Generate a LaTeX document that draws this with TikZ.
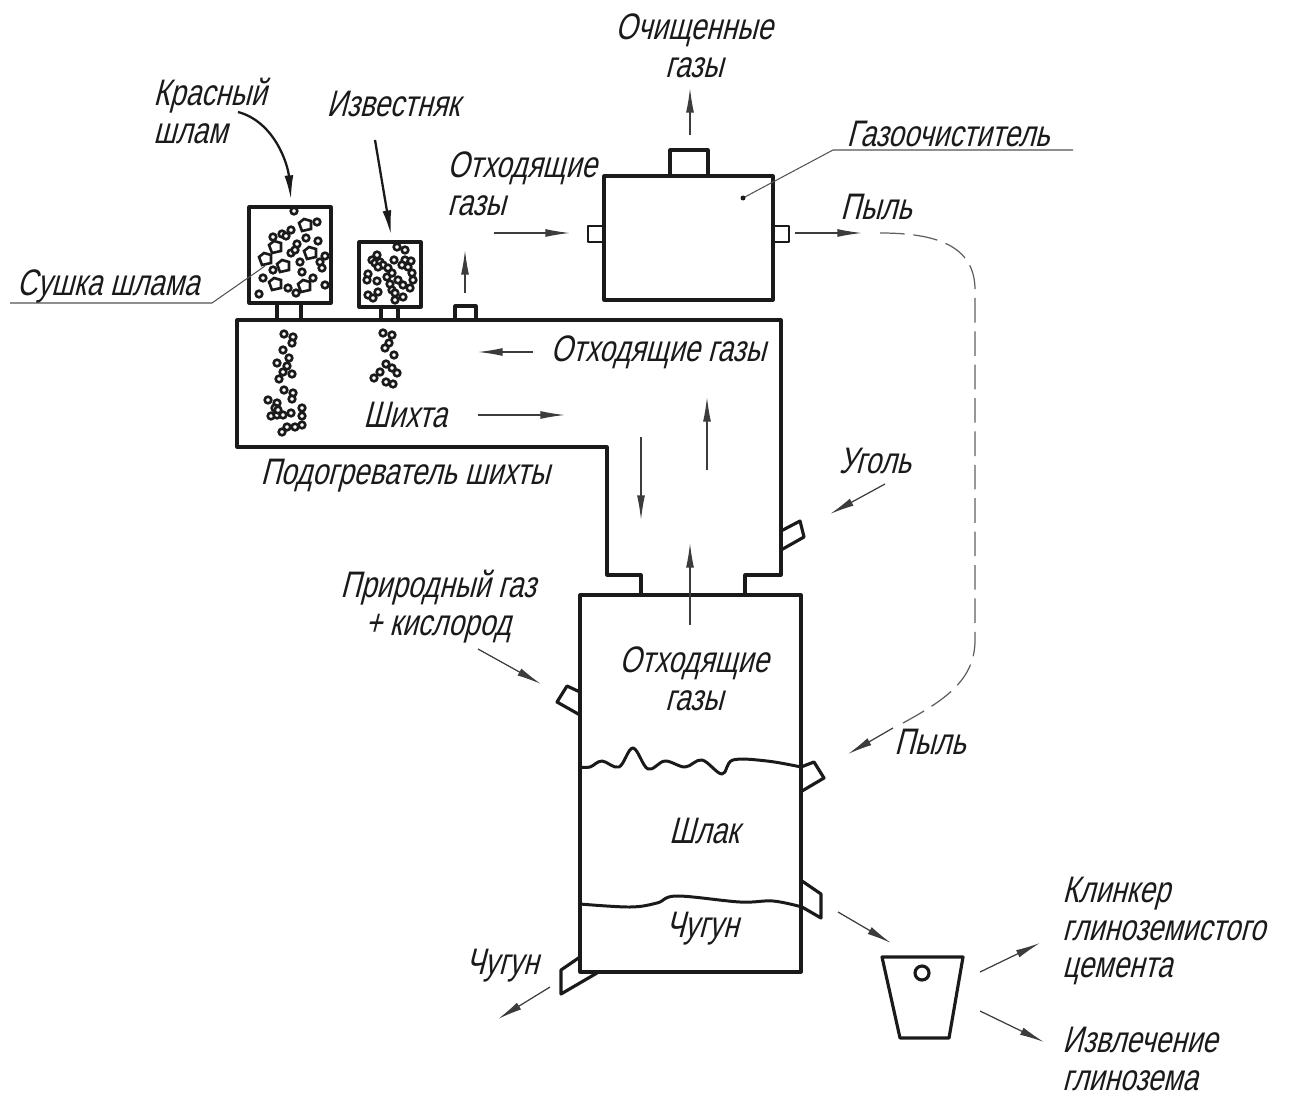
\documentclass[tikz,border=0pt]{standalone}
\usepackage{fontspec}
\newfontfamily\gostfont{Liberation Sans}[FakeStretch=0.76,FakeSlant=0.26]
\usetikzlibrary{arrows.meta,calc,positioning,decorations.pathreplacing}
\definecolor{inkgray}{HTML}{1A1A1A}
\tikzset{
  wall/.style={inkgray, line width=1.8pt, line join=round},
  thinwall/.style={inkgray, line width=1.4pt, line join=round},
  leader/.style={inkgray!75, line width=0.6pt},
  flow/.style={inkgray!85, line width=0.7pt, -{Latex[length=14pt,width=4.5pt]}},
  feed/.style={inkgray, line width=1.3pt, -{Latex[length=14pt,width=5pt]}},
  dustline/.style={inkgray!70, line width=0.7pt, dash pattern=on 14pt off 5pt},
  grain/.style={inkgray, line width=1.5pt, fill=white},
  caption/.style={inkgray, font=\gostfont\fontsize{21}{21.5}\selectfont, inner sep=0pt, align=center},
  captionleft/.style={caption, align=left, anchor=west}
}
\begin{document}
\begin{tikzpicture}[x=0.02cm,y=-0.02cm]
  \useasboundingbox (0,0) rectangle (1293,1097);
  % dryers
  \draw[wall] (249,207) rectangle (331,303);
  \draw[wall] (359,242) rectangle (421,307);
  \draw[wall] (277,303)--(277,320) (301,303)--(301,320);
  \draw[wall] (381,307)--(381,320) (398,307)--(398,320);
  \draw[wall] (455,320)--(455,306)--(476,306)--(476,320);
  % preheater and shaft
  \draw[wall] (641,596)--(641,575)--(607,575)--(607,447)--(237,447)--(237,320)--(781,320)--(781,575)--(745,575)--(745,596);
  % furnace
  \draw[wall] (580,595) rectangle (801,972);
  % gas cleaner
  \draw[wall] (604,176) rectangle (773,300);
  \draw[wall] (670,176)--(670,150)--(708,150)--(708,176);
  \draw[thinwall] (604,226)--(588,226)--(588,242)--(604,242);
  \draw[thinwall] (773,226)--(789,226)--(789,242)--(773,242);
  % ports
  \draw[wall] (781,531)--(800,521)--(804,537)--(781,550);
  \draw[wall] (580,692)--(567,686)--(557,702)--(580,715);
  \draw[wall] (801,767)--(814,762)--(824,778)--(802,791);
  \draw[wall] (802,881)--(821,894)--(821,918)--(802,907);
  \draw[wall] (580,957)--(561,970)--(561,994)--(597,973);
  % melt levels
  \draw[wall, line width=1.7pt] plot[smooth, tension=0.6] coordinates {(580,767) (590,767) (602,761) (619,767) (633,748) (648,769) (665,761) (685,767) (702,760) (722,774) (733,760) (767,761) (801,767)};
  \draw[wall, line width=1.7pt] plot[smooth, tension=0.6] coordinates {(580,904) (630,907) (657,903) (677,896) (740,902) (773,901) (802,907)};
  % ladle
  \draw[wall] (882,957)--(963,957)--(949,1038)--(900,1038)--cycle;
  \draw[wall] (922,973) circle (7);
  % grains
  \foreach \x/\y in {294/211,317/222,291/230,282/234,273/237,286/236,297/244,306/238,318/241,291/253,295/250,273/270,300/262,302/272,320/262,322/268,325/256,263/278,313/278,288/288,296/293,325/285,259/294}
    \draw[grain] (\x,\y) circle (3.3);
  \foreach \x/\y in {305/225,275/247,265/259,310/253,283/266,275/284,304/286}
    \draw[grain] (\x-6,\y-2)--(\x-1,\y-6)--(\x+6,\y-4)--(\x+6,\y+4)--(\x-3,\y+6)--cycle;
  \foreach \x/\y in {397/247,405/250,377/255,372/260,375/263,380/262,383/265,378/267,394/260,405/260,411/261,402/265,408/267,388/268,412/273,368/274,367/280,377/281,387/277,392/273,398/280,413/280,403/285,410/288,390/284,392/290,368/295,378/292,373/298,395/293,395/300,403/297}
    \draw[grain] (\x,\y) circle (3.3);
  \foreach \x/\y in {284/334,293/337,292/343,283/350,289/358,277/363,287/366,283/372,292/374,279/379,284/390,293/393,292/399,268/400,277/403,275/408,302/408,271/416,277/415,283/415,291/413,302/416,302/425,295/427,287/427,282/432,278/410}
    \draw[grain] (\x,\y) circle (3.3);
  \foreach \x/\y in {383/333,392/335,389/343,385/348,394/355,386/364,380/372,392/368,397/373,374/378,386/382,393/384}
    \draw[grain] (\x,\y) circle (3.3);
  % leaders
  \draw[leader] (10,303)--(212,303)--(265,266);
  \draw[leader] (743,198)--(833,150)--(1073,150);
  \fill[inkgray] (743,198) circle (2.5);
  % arrows
  \draw[feed] (238,112) .. controls (275,122) and (288,165) .. (291,200);
  \draw[feed] (375,140)--(391,235);
  \draw[flow] (690,135)--(690,88);
  \draw[flow] (465,293)--(465,250);
  \draw[flow] (494,233)--(570,233);
  \draw[flow] (795,233)--(862,233);
  \draw[flow] (533,352)--(478,352);
  \draw[flow] (478,415)--(565,415);
  \draw[flow] (707,470)--(707,397);
  \draw[flow] (641,437)--(641,520);
  \draw[flow] (690,625)--(690,543);
  \draw[flow] (885,484)--(830,514);
  \draw[flow] (478,649)--(541,684);
  \draw[flow] (550,987)--(498,1019);
  \draw[flow] (838,912)--(891,943);
  \draw[flow] (980,972)--(1040,943);
  \draw[flow] (980,1011)--(1044,1042);
  \draw[flow] (893,728)--(848,754);
  \draw[dustline] (880,233) .. controls (935,233) and (975,245) .. (975,290)--(975,640) .. controls (975,680) and (945,700) .. (903,723);
  % labels
  \node[captionleft] (redmud) at (153,111) {Красный\\шлам};
  \node[caption] (limestone) at (393,104) {Известняк};
  \node[caption] (cleangas) at (694,46) {Очищенные\\газы};
  \node[captionleft] (offgasone) at (447,184) {Отходящие\\газы};
  \node[caption] (cleaner) at (948,134) {Газоочиститель};
  \node[caption] (dustone) at (876,207) {Пыль};
  \node[caption] (drying) at (108,286) {Сушка шлама};
  \node[caption] (offgastwo) at (658,352) {Отходящие газы};
  \node[caption] (charge) at (405,415) {Шихта};
  \node[caption] (preheater) at (405,476) {Подогреватель шихты};
  \node[caption] (coal) at (875,461) {Уголь};
  \node[caption] (natgas) at (438,607) {Природный газ\\+ кислород};
  \node[caption] (offgasthree) at (694,679) {Отходящие\\газы};
  \node[caption] (dusttwo) at (930,742) {Пыль};
  \node[caption] (slag) at (704,831) {Шлак};
  \node[caption] (ironin) at (702,929) {Чугун};
  \node[caption] (ironout) at (502,966) {Чугун};
  \node[captionleft] (clinker) at (1062,931) {Клинкер\\глиноземистого\\цемента};
  \node[captionleft] (alumina) at (1062,1059) {Извлечение\\глинозема};
\end{tikzpicture}
\end{document}
